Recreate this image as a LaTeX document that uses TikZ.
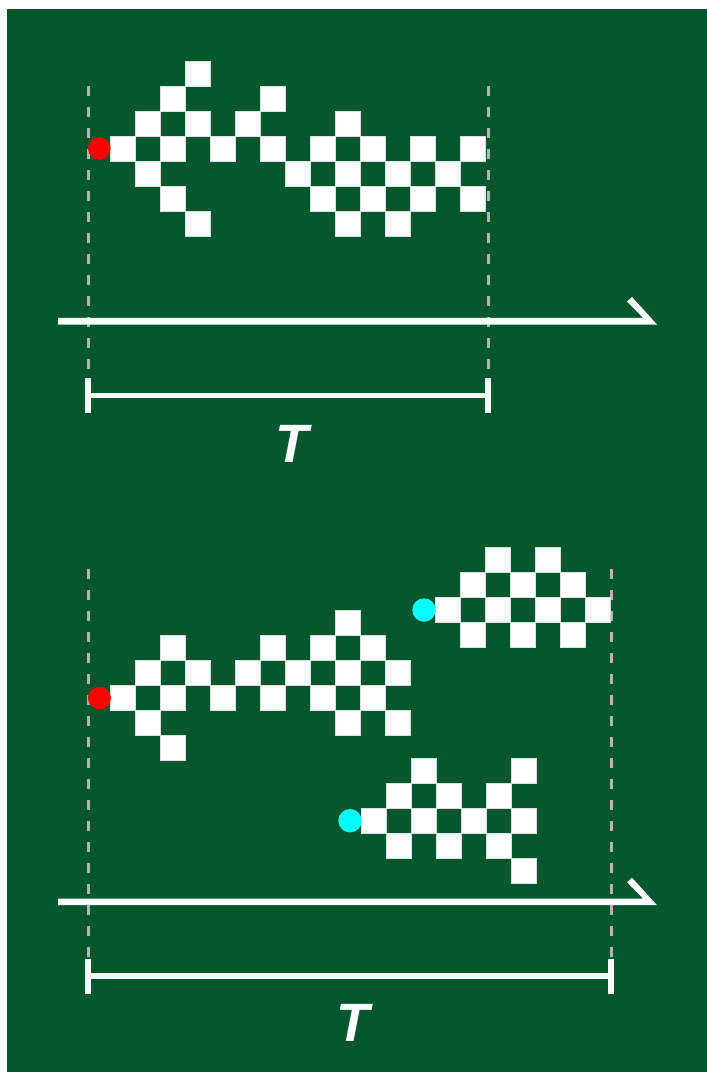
\documentclass[tikz,border=0pt]{standalone}
\usepackage{fontspec}
\setmainfont{Liberation Sans}
\definecolor{bg}{RGB}{2,87,45}
\definecolor{dashgray}{RGB}{178,182,180}
\definecolor{aqua}{RGB}{0,255,255}
\definecolor{pured}{RGB}{255,0,0}
\tikzset{
  sq/.style={fill=white, draw=white!75!gray, line width=0.5pt},
  guide/.style={draw=dashgray, line width=3pt, dash pattern=on 10pt off 11pt},
  bar/.style={draw=white, line width=5.5pt},
  tick/.style={draw=white, line width=6pt},
  axisfill/.style={fill=white},
  lbl/.style={text=white, font=\fontsize{54}{54}\selectfont\bfseries\itshape, inner sep=0pt},
  reddot/.style={fill=pured},
  cyandot/.style={fill=aqua}
}
\newcommand\drawfig[3]{%
  \foreach \c/\r in {#3} \path[sq] ({#1+25*\c},{#2+25*\r}) rectangle ++(25,25);}
\begin{document}
\begin{tikzpicture}[x=1pt,y=-1pt]
\useasboundingbox (0,0) rectangle (707,1072);
\fill[white] (0,0) rectangle (707,1072);
\fill[bg] (7,9) rectangle (707,1072);

% ---------- top panel ----------
\coordinate (g1a) at (88,86);  \coordinate (g1b) at (88,378);
\coordinate (g2a) at (488,86); \coordinate (g2b) at (488,378);
\draw[guide] (g1a) -- (g1b);
\draw[guide] (g2a) -- (g2b);

\drawfig{110.7}{136}{3/-3, 2/-2,6/-2, 1/-1,3/-1,5/-1,9/-1,
  0/0,2/0,4/0,6/0,8/0,10/0,12/0,14/0,
  1/1,7/1,9/1,11/1,13/1,
  2/2,8/2,10/2,12/2,14/2,
  3/3,9/3,11/3}
\fill[reddot] (99.3,148.5) circle (11.3);

\fill[axisfill] (58,317.8) -- (643,317.8) -- (627,301.5) -- (632,297) -- (657,324.5) -- (58,324.5) -- cycle;

\coordinate (t1l) at (88,395.7); \coordinate (t1r) at (488,395.7);
\draw[bar] (t1l) -- (t1r);
\draw[tick] (88,378.3) -- (88,412.7);
\draw[tick] (488,378.3) -- (488,412.7);
\node[lbl] (T1) at (292,444) {T};

% ---------- bottom panel ----------
\coordinate (g3a) at (88,569);  \coordinate (g3b) at (88,959);
\coordinate (g4a) at (611,569); \coordinate (g4b) at (611,959);
\draw[guide] (g3a) -- (g3b);
\draw[guide] (g4a) -- (g4b);

\drawfig{110.7}{685.3}{9/-3, 2/-2,6/-2,8/-2,10/-2,
  1/-1,3/-1,5/-1,7/-1,9/-1,11/-1,
  0/0,2/0,4/0,6/0,8/0,10/0,
  1/1,9/1,11/1, 2/2}
\fill[reddot] (99.4,698) circle (11.5);

\drawfig{435}{597.7}{2/-2,4/-2, 1/-1,3/-1,5/-1, 0/0,2/0,4/0,6/0, 1/1,3/1,5/1}
\fill[cyandot] (424,610) circle (11.7);

\drawfig{361}{808.3}{2/-2,6/-2, 1/-1,3/-1,5/-1, 0/0,2/0,4/0,6/0, 1/1,3/1,5/1, 6/2}
\fill[cyandot] (350,820.7) circle (11.7);

\fill[axisfill] (58,898.5) -- (643,898.5) -- (627,882.2) -- (632,877.7) -- (657,905.2) -- (58,905.2) -- cycle;

\coordinate (t2l) at (88,976); \coordinate (t2r) at (611,976);
\draw[bar] (t2l) -- (t2r);
\draw[tick] (88,959) -- (88,994);
\draw[tick] (611,959) -- (611,994);
\node[lbl] (T2) at (353,1022.5) {T};
\end{tikzpicture}
\end{document}
